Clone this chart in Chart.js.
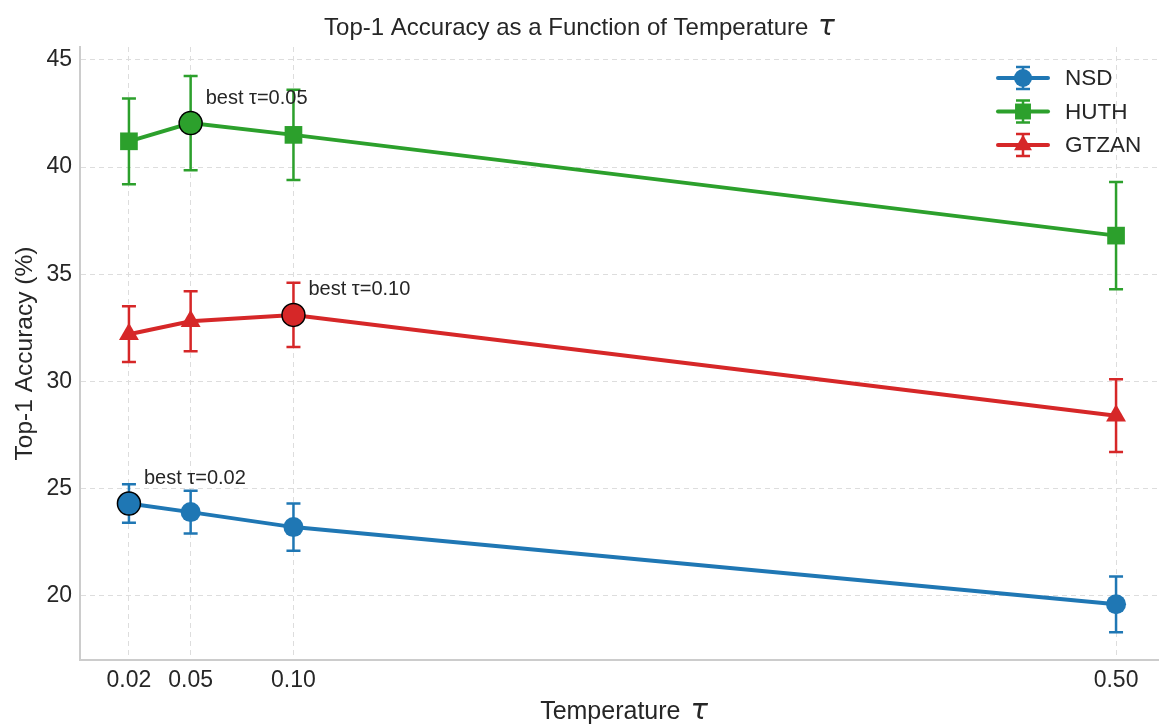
<!DOCTYPE html>
<html>
<head>
<meta charset="utf-8">
<script src="https://cdn.jsdelivr.net/npm/chart.js@4/dist/chart.umd.min.js"></script>
<style>
  html, body { margin: 0; padding: 0; background: #ffffff; overflow: hidden; }
  #wrap { width: 1159px; height: 724px; position: relative; }
</style>
</head>
<body>
<div id="wrap"><canvas id="accuracy-chart"></canvas></div>
<script>
// Données
const temperatures = [0.02, 0.05, 0.10, 0.50];
const nsdAcc = [24.3, 23.9, 23.2, 19.6];
const nsdErr = [0.9, 1.0, 1.1, 1.3];
const huthAcc = [41.2, 42.05, 41.5, 36.8];
const huthErr = [2.0, 2.2, 2.1, 2.5];
const gtzanAcc = [32.2, 32.8, 33.1, 28.4];
const gtzanErr = [1.3, 1.4, 1.5, 1.7];
const seriesNames = ['NSD', 'HUTH', 'GTZAN'];
const xTickValues = [0.02, 0.05, 0.10, 0.50];
const yTickValues = [20, 25, 30, 35, 40, 45];

const COLORS = { NSD: '#1f77b4', HUTH: '#2ca02c', GTZAN: '#d62728' };
const STYLES = { NSD: 'circle', HUTH: 'rect', GTZAN: 'triangle' };
const RADII = { NSD: 10, HUTH: 12.5, GTZAN: 11.5 };
const TEXT = '#262626';
const FONT = "'Liberation Sans', Arial, sans-serif";
const MATH = "'DejaVu Sans', sans-serif";

Chart.defaults.font.family = FONT;
Chart.defaults.color = TEXT;

const toPoints = (ys) => temperatures.map((t, i) => ({ x: t, y: ys[i] }));
const argMax = (arr) => arr.indexOf(Math.max(...arr));

const series = [
  { name: 'NSD', acc: nsdAcc, err: nsdErr },
  { name: 'HUTH', acc: huthAcc, err: huthErr },
  { name: 'GTZAN', acc: gtzanAcc, err: gtzanErr },
];

const mainDatasets = series.map((s, k) => ({
  label: s.name,
  data: toPoints(s.acc),
  errors: s.err,
  borderColor: COLORS[s.name],
  backgroundColor: COLORS[s.name],
  borderWidth: 4,
  pointStyle: STYLES[s.name],
  pointRadius: RADII[s.name],
  pointBorderWidth: 0,
  pointHoverRadius: RADII[s.name],
  tension: 0,
  order: 3 - k,
}));

const bestDatasets = series.map((s) => {
  const i = argMax(s.acc);
  return {
    label: s.name + '-best',
    isBest: true,
    data: [{ x: temperatures[i], y: s.acc[i] }],
    bestLabel: 'best τ=' + temperatures[i].toFixed(2),
    showLine: false,
    backgroundColor: COLORS[s.name],
    borderColor: '#000000',
    pointStyle: 'circle',
    pointRadius: 11.5,
    pointBorderWidth: 1.5,
    order: -1,
  };
});

// Barres d'erreur + annotations "best"
const errorBarPlugin = {
  id: 'errorBars',
  beforeDatasetsDraw(chart) {
    const { ctx, scales } = chart;
    chart.data.datasets.forEach((ds) => {
      if (!ds.errors) return;
      ctx.save();
      ctx.strokeStyle = ds.borderColor;
      ctx.lineWidth = 2.5;
      ds.data.forEach((p, i) => {
        const x = scales.x.getPixelForValue(p.x);
        const yTop = scales.y.getPixelForValue(p.y + ds.errors[i]);
        const yBot = scales.y.getPixelForValue(p.y - ds.errors[i]);
        ctx.beginPath();
        ctx.moveTo(x, yTop); ctx.lineTo(x, yBot);
        ctx.moveTo(x - 7, yTop); ctx.lineTo(x + 7, yTop);
        ctx.moveTo(x - 7, yBot); ctx.lineTo(x + 7, yBot);
        ctx.stroke();
      });
      ctx.restore();
    });
  },
  afterDatasetsDraw(chart) {
    const { ctx, scales } = chart;
    ctx.save();
    ctx.font = '20px ' + FONT;
    ctx.fillStyle = TEXT;
    ctx.textAlign = 'left';
    ctx.textBaseline = 'middle';
    chart.data.datasets.forEach((ds) => {
      if (!ds.isBest) return;
      const p = ds.data[0];
      ctx.fillText(ds.bestLabel, scales.x.getPixelForValue(p.x) + 15, scales.y.getPixelForValue(p.y) - 25);
    });
    ctx.restore();
  },
};

function drawMarker(ctx, style, x, y, r) {
  ctx.beginPath();
  if (style === 'circle') {
    ctx.arc(x, y, r, 0, Math.PI * 2);
  } else if (style === 'rect') {
    const h = r * Math.SQRT1_2;
    ctx.rect(x - h, y - h, 2 * h, 2 * h);
  } else {
    ctx.moveTo(x, y - r);
    ctx.lineTo(x + r * Math.sin(2 * Math.PI / 3), y - r * Math.cos(2 * Math.PI / 3));
    ctx.lineTo(x + r * Math.sin(4 * Math.PI / 3), y - r * Math.cos(4 * Math.PI / 3));
    ctx.closePath();
  }
  ctx.fill();
}

// texte normal suivi d'un tau en italique (comme le mathtext)
function drawWithTau(ctx, text, size, x, y) {
  ctx.save();
  ctx.fillStyle = TEXT;
  ctx.textBaseline = 'alphabetic';
  ctx.textAlign = 'left';
  const mainFont = size + 'px ' + FONT;
  const tauFont = 'italic ' + Math.round(size * 1.15) + 'px ' + MATH;
  ctx.font = mainFont;
  const w1 = ctx.measureText(text + ' ').width + 3;
  ctx.font = tauFont;
  const w2 = ctx.measureText('τ').width;
  const start = x - (w1 + w2) / 2;
  const base = y + size * 0.36;
  ctx.font = mainFont;
  ctx.fillText(text, start, base);
  ctx.font = tauFont;
  ctx.fillText('τ', start + w1, base);
  ctx.restore();
}

// Titres et légende
const decorPlugin = {
  id: 'decor',
  afterDraw(chart) {
    const { ctx, chartArea } = chart;
    drawWithTau(ctx, 'Top-1 Accuracy as a Function of Temperature', 24, chart.width / 2, 26);
    drawWithTau(ctx, 'Temperature', 25, (chartArea.left + chartArea.right) / 2 + 5, 710);

    ctx.save();
    ctx.translate(25, (chartArea.top + chartArea.bottom) / 2);
    ctx.rotate(-Math.PI / 2);
    ctx.font = '24.5px ' + FONT;
    ctx.fillStyle = TEXT;
    ctx.textAlign = 'center';
    ctx.textBaseline = 'middle';
    ctx.fillText('Top-1 Accuracy (%)', 0, 0);
    ctx.restore();

    ctx.save();
    seriesNames.forEach((name, k) => {
      const y = chartArea.top + 31 + k * 33.5;
      const x0 = chartArea.right - 160;
      const x1 = chartArea.right - 110;
      const xm = (x0 + x1) / 2;
      ctx.strokeStyle = COLORS[name];
      ctx.fillStyle = COLORS[name];
      ctx.lineWidth = 4;
      ctx.lineCap = 'round';
      ctx.beginPath(); ctx.moveTo(x0, y); ctx.lineTo(x1, y); ctx.stroke();
      ctx.lineCap = 'butt';
      ctx.lineWidth = 2.5;
      ctx.beginPath();
      ctx.moveTo(xm, y - 11); ctx.lineTo(xm, y + 11);
      ctx.moveTo(xm - 7, y - 11); ctx.lineTo(xm + 7, y - 11);
      ctx.moveTo(xm - 7, y + 11); ctx.lineTo(xm + 7, y + 11);
      ctx.stroke();
      drawMarker(ctx, STYLES[name], xm, y, RADII[name] * 0.9);
      ctx.fillStyle = TEXT;
      ctx.font = '22.5px ' + FONT;
      ctx.textAlign = 'left';
      ctx.textBaseline = 'middle';
      ctx.fillText(name, chartArea.right - 93, y + 1);
    });
    ctx.restore();
  },
};

const gridStyle = { color: '#dddddd', lineWidth: 1, drawTicks: false };
const borderStyle = { display: true, color: '#cccccc', width: 2, dash: [5, 4] };

new Chart(document.getElementById('accuracy-chart').getContext('2d'), {
  type: 'line',
  data: { datasets: [...bestDatasets, ...mainDatasets] },
  plugins: [errorBarPlugin, decorPlugin],
  options: {
    responsive: true,
    maintainAspectRatio: false,
    animation: false,
    layout: { autoPadding: false, padding: { left: 0, right: 1, top: 47, bottom: 0 } },
    plugins: {
      legend: { display: false },
      tooltip: { enabled: false },
      title: { display: false },
    },
    scales: {
      x: {
        type: 'linear',
        min: -0.0038,
        max: 0.5204,
        grid: gridStyle,
        border: borderStyle,
        afterBuildTicks: (scale) => { scale.ticks = xTickValues.map((v) => ({ value: v })); },
        afterFit: (scale) => { scale.height = 64; scale.paddingRight = 0; scale.paddingLeft = 0; },
        ticks: {
          autoSkip: false,
          maxRotation: 0,
          padding: 7,
          color: TEXT,
          font: { size: 23 },
          callback: (v) => Number(v).toFixed(2),
        },
        title: { display: false },
      },
      y: {
        min: 17.0,
        max: 45.6,
        grid: gridStyle,
        border: borderStyle,
        afterBuildTicks: (scale) => { scale.ticks = yTickValues.map((v) => ({ value: v })); },
        afterFit: (scale) => { scale.width = 80; scale.paddingTop = 0; scale.paddingBottom = 0; },
        ticks: { padding: 8, color: TEXT, font: { size: 23 } },
        title: { display: false },
      },
    },
  },
});
</script>
</body>
</html>
